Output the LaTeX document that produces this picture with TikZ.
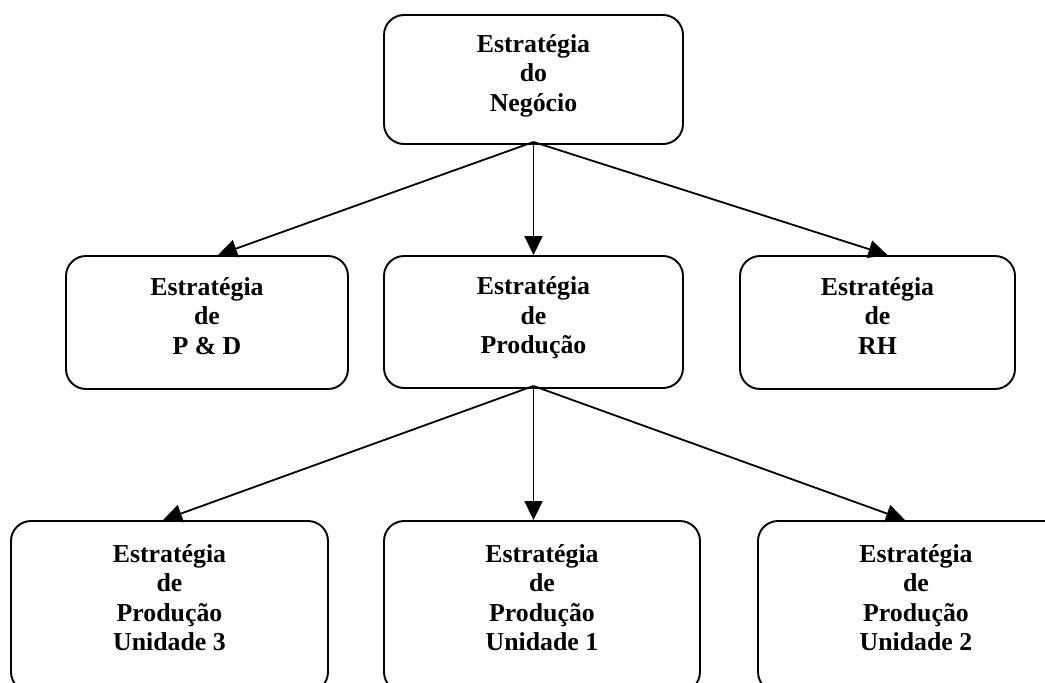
\documentclass[tikz,border=0pt]{standalone}
\usepackage{fontspec}
\setmainfont{Liberation Serif}
\usetikzlibrary{arrows.meta}
\tikzset{
  box/.style={draw, line width=1.9pt, rounded corners=20pt, inner sep=0pt,
    align=center, text depth=13pt,
    font=\bfseries\fontsize{25.8}{29.5}\selectfont},
  tallbox/.style={box, text depth=18pt, minimum height=171pt},
  link/.style={line width=1.8pt, -{Triangle[length=19pt,width=18pt]}}
}
\begin{document}
\begin{tikzpicture}[x=1pt,y=-1pt]
  \clip (0,0) rectangle (1045,683);
  \fill[white] (0,0) rectangle (1045,683);

  % top level
  \node[box, minimum width=299pt, minimum height=129pt] (neg) at (533.5,79.5)
    {Estratégia\\do\\Negócio};

  % second level
  \node[box, minimum width=282pt, minimum height=133pt] (pd) at (207,322.5)
    {Estratégia\\de\\P \& D};
  \node[box, minimum width=299pt, minimum height=132pt] (prod) at (533.5,322)
    {Estratégia\\de\\Produção};
  \node[box, minimum width=275pt, minimum height=133pt] (rh) at (877.5,322.5)
    {Estratégia\\de\\RH};

  % third level
  \node[tallbox, minimum width=317pt] (u3) at (169.5,606.5)
    {Estratégia\\de\\Produção\\Unidade 3};
  \node[tallbox, minimum width=316pt] (u1) at (542,606.5)
    {Estratégia\\de\\Produção\\Unidade 1};
  \node[tallbox, minimum width=316pt] (u2) at (916,606.5)
    {Estratégia\\de\\Produção\\Unidade 2};

  % branching points just below the parent boxes
  \coordinate (s1) at ([yshift=3pt]neg.south);
  \coordinate (s2) at ([yshift=3pt]prod.south);

  \draw[link] (s1) -- ([xshift=11pt]pd.north);
  \draw[link] (s1) -- (prod.north);
  \draw[link] (s1) -- ([xshift=10pt]rh.north);

  \draw[link] (s2) -- ([xshift=-6.5pt]u3.north);
  \draw[link] (s2) -- ([xshift=-8.5pt]u1.north);
  \draw[link] (s2) -- ([xshift=-11pt]u2.north);
\end{tikzpicture}
\end{document}
